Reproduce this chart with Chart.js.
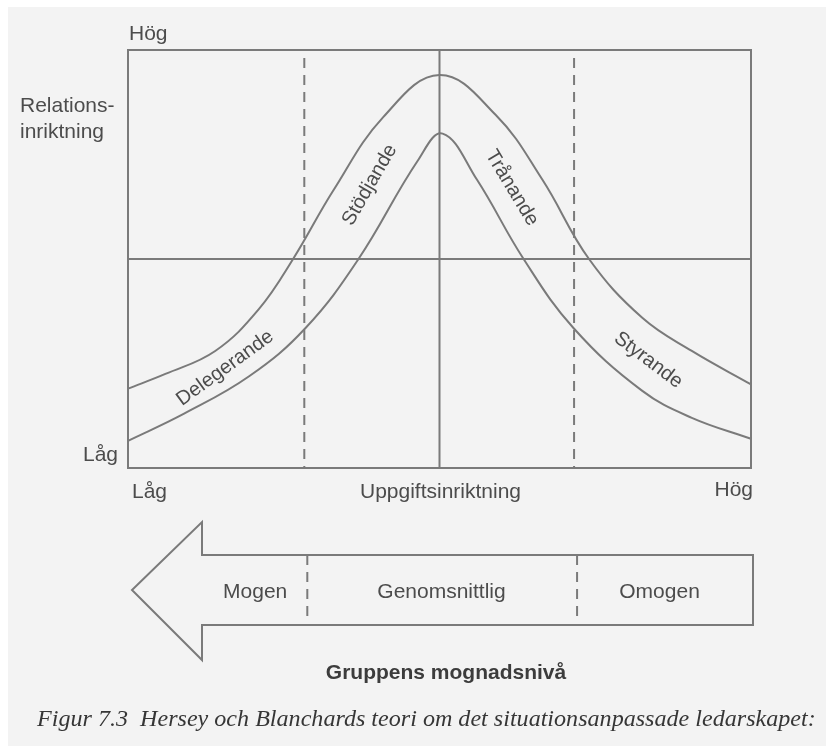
<!DOCTYPE html>
<html>
<head>
<meta charset="utf-8">
<script src="https://cdn.jsdelivr.net/npm/chart.js@4"></script>
<style>
  html, body { margin: 0; padding: 0; background: #fff; }
  #wrap { width: 826px; height: 746px; }
  canvas { filter: blur(0.6px); }
</style>
</head>
<body>
<div id="wrap"><canvas id="situationChart" width="826" height="746"></canvas></div>
<script>
// Uppgiftsinriktning (x) and relationsinriktning (y), both read on a 0-10 scale
const outerX = [0, 0.6, 1.4, 2.1, 2.65, 3.3, 4.1, 5.0, 5.9, 6.65, 7.4, 8.25, 9.05, 10];
const outerY = [1.9, 2.25, 2.8, 3.8, 5.0, 6.65, 8.4, 9.4, 8.45, 6.9, 5.0, 3.6, 2.8, 2.0];
const innerX = [0, 0.9, 1.95, 2.85, 3.7, 4.65, 5.05, 5.6, 6.35, 7.15, 8.25, 9.05, 10];
const innerY = [0.65, 1.3, 2.2, 3.35, 5.0, 7.35, 8.0, 6.9, 5.0, 3.35, 1.85, 1.2, 0.7];
const zoneBounds = [2.83, 7.16];

const axisEnds = ['Låg', 'Hög'];
const xAxisTitle = 'Uppgiftsinriktning';
const yAxisTitle = ['Relations-', 'inriktning'];
const styleLabels = ['Delegerande', 'Stödjande', 'Trånande', 'Styrande'];
const maturityLevels = ['Mogen', 'Genomsnittlig', 'Omogen'];
const maturityTitle = 'Gruppens mognadsnivå';
const caption = 'Figur 7.3  Hersey och Blanchards teori om det situationsanpassade ledarskapet:';

const LINE = '#7a7a7a';
const TEXT = '#4c4c4c';
const SANS = "'Liberation Sans', Arial, sans-serif";

function toPoints(xs, ys) {
    return xs.map((x, i) => ({ x: x, y: ys[i] }));
}

// Everything around the curves: frame, quadrant lines, labels, arrow, caption
const figurePlugin = {
    id: 'figure',
    beforeDraw(chart) {
        const c = chart.ctx;
        c.save();
        c.fillStyle = '#f3f3f3';
        c.fillRect(0, 0, chart.width, chart.height);
        c.fillStyle = '#ffffff';
        c.fillRect(0, 0, chart.width, 7);
        c.fillRect(0, 0, 8, chart.height);
        c.restore();
    },
    beforeDatasetsDraw(chart) {
        const c = chart.ctx;
        const xs = chart.scales.x, ys = chart.scales.y;
        const a = chart.chartArea;
        c.save();
        c.strokeStyle = LINE;
        c.lineWidth = 2;
        c.strokeRect(a.left, a.top, a.right - a.left, a.bottom - a.top);

        const midX = xs.getPixelForValue(5), midY = ys.getPixelForValue(5);
        c.beginPath();
        c.moveTo(midX, a.top); c.lineTo(midX, a.bottom);
        c.moveTo(a.left, midY); c.lineTo(a.right, midY);
        c.stroke();

        c.setLineDash([10, 7]);
        zoneBounds.forEach(v => {
            const px = xs.getPixelForValue(v);
            c.beginPath();
            c.moveTo(px, a.top + 8); c.lineTo(px, a.bottom);
            c.stroke();
        });
        c.restore();
    },
    afterDraw(chart) {
        const c = chart.ctx;
        const xs = chart.scales.x, ys = chart.scales.y;
        const a = chart.chartArea;
        c.save();
        c.fillStyle = TEXT;
        c.font = '21px ' + SANS;
        c.textBaseline = 'middle';

        // axis ends and titles
        c.textAlign = 'left';
        c.fillText(axisEnds[1], a.left + 1, 34);
        c.fillText(yAxisTitle[0], 20, 106);
        c.fillText(yAxisTitle[1], 20, 132);
        c.textAlign = 'right';
        c.fillText(axisEnds[0], a.left - 10, 455);
        c.textAlign = 'left';
        c.fillText(axisEnds[0], a.left + 4, 492);
        c.textAlign = 'right';
        c.fillText(axisEnds[1], a.right + 2, 490);
        c.textAlign = 'center';
        c.fillText(xAxisTitle, xs.getPixelForValue(5) + 1, 492);

        // leadership styles along the curves
        const spots = [[1.56, 2.39, -36], [3.88, 6.77, -60], [6.16, 6.7, 59], [8.35, 2.58, 37]];
        c.font = '20px ' + SANS;
        styleLabels.forEach((t, i) => {
            const s = spots[i];
            c.save();
            c.translate(xs.getPixelForValue(s[0]), ys.getPixelForValue(s[1]));
            c.rotate(s[2] * Math.PI / 180);
            c.fillText(t, 0, 0);
            c.restore();
        });

        // maturity arrow
        const top = 555, bot = 625, tipX = 132, headX = 202, midA = (top + bot) / 2;
        const right = a.right + 2;
        c.strokeStyle = LINE;
        c.lineWidth = 2;
        c.beginPath();
        c.moveTo(right, top);
        c.lineTo(headX, top);
        c.lineTo(headX, 522);
        c.lineTo(tipX, midA);
        c.lineTo(headX, 660);
        c.lineTo(headX, bot);
        c.lineTo(right, bot);
        c.closePath();
        c.stroke();
        c.setLineDash([10, 7]);
        zoneBounds.forEach(v => {
            const px = xs.getPixelForValue(v) + 3;
            c.beginPath();
            c.moveTo(px, top); c.lineTo(px, bot - 8);
            c.stroke();
        });
        c.setLineDash([]);

        const zoneMid = [
            (headX + xs.getPixelForValue(zoneBounds[0])) / 2 + 2,
            xs.getPixelForValue(5) + 2,
            (xs.getPixelForValue(zoneBounds[1]) + right) / 2 - 4
        ];
        c.font = '21px ' + SANS;
        c.textAlign = 'center';
        maturityLevels.forEach((t, i) => c.fillText(t, zoneMid[i], 592));

        c.font = 'bold 21px ' + SANS;
        c.fillStyle = '#3c3c3c';
        c.fillText(maturityTitle, 446, 673);

        // caption, stretched to the printed width
        c.font = 'italic 20px "Liberation Serif", "Times New Roman", serif';
        const w = c.measureText(caption).width;
        const size = 20 * 778 / w;
        c.font = 'italic ' + size.toFixed(1) + 'px "Liberation Serif", "Times New Roman", serif';
        c.textAlign = 'left';
        c.fillStyle = '#363636';
        c.fillText(caption, 37, 720);
        c.restore();
    }
};

const ctx = document.getElementById('situationChart').getContext('2d');
new Chart(ctx, {
    type: 'line',
    data: {
        datasets: [{
            label: 'Övre kurva',
            data: toPoints(outerX, outerY),
            borderColor: LINE,
            borderWidth: 2,
            pointRadius: 0,
            tension: 0.4,
            clip: false
        }, {
            label: 'Undre kurva',
            data: toPoints(innerX, innerY),
            borderColor: LINE,
            borderWidth: 2,
            pointRadius: 0,
            tension: 0.4,
            clip: false
        }]
    },
    options: {
        responsive: false,
        animation: false,
        layout: { padding: { left: 128, top: 50, right: 75, bottom: 278 } },
        plugins: { legend: { display: false }, tooltip: { enabled: false } },
        scales: {
            x: { type: 'linear', min: 0, max: 10, display: false },
            y: { min: 0, max: 10, display: false }
        }
    },
    plugins: [figurePlugin]
});
</script>
</body>
</html>
